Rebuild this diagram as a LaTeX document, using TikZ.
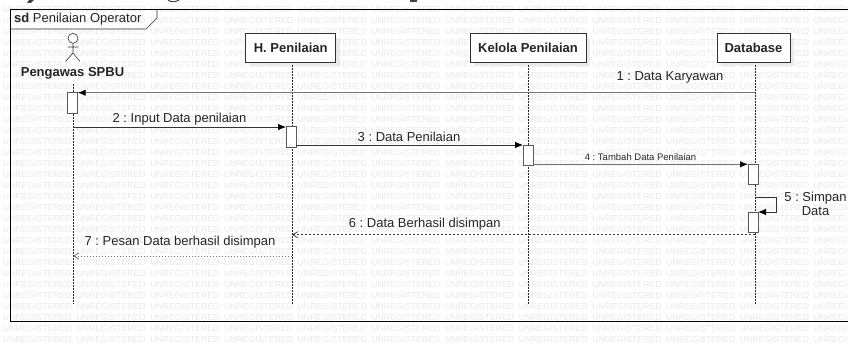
\documentclass[tikz,border=0pt]{standalone}
\usepackage{fontspec}
\setmainfont{Liberation Sans}
\usetikzlibrary{arrows.meta}
\definecolor{wm}{gray}{0.915}
\definecolor{ink}{gray}{0.15}
\definecolor{msg}{gray}{0.2}
\definecolor{msgsoft}{gray}{0.45}
\tikzset{
  x=1pt,y=-1pt,
  wmark/.style={text=wm,font=\fontsize{8.7}{9}\selectfont,anchor=west,inner sep=0pt},
  headbox/.style={draw=black!80,line width=0.7pt,fill=white,inner sep=0pt,font=\fontsize{13}{15}\bfseries\selectfont,text=ink},
  lifeline/.style={black!85,line width=0.7pt,dash pattern=on 1.5pt off 1.5pt},
  actbox/.style={draw=black!65,line width=0.8pt,fill=white,inner sep=0pt,minimum width=10pt},
  lbl/.style={font=\frenchspacing\fontsize{13}{13.5}\selectfont,text=ink,inner sep=0pt,align=center},
  synccall/.style={line width=0.8pt,draw=msg,-{Latex[length=8pt,width=6.5pt,black]}},
  softcall/.style={line width=1pt,draw=msgsoft,-{Latex[length=8pt,width=6.5pt,black]}},
  reply/.style={line width=0.7pt,draw=black!80,dash pattern=on 2pt off 2pt,-{Straight Barb[length=5pt,width=6pt]}},
  softreply/.style={line width=0.8pt,draw=black!55,dash pattern=on 1.5pt off 1.5pt,-{Straight Barb[length=5pt,width=6pt]}},
}
\begin{document}
\begin{tikzpicture}
\useasboundingbox (0,0) rectangle (848,345);
\fill[white] (0,0) rectangle (848,345);
% watermark
\begin{scope}
\clip (0,0) rectangle (848,345);
\foreach \r in {0,...,30}{
  \foreach \c in {0,...,11}{
    \node[wmark] at ({2.7+73.7*\c},{10+11*\r}) {UNREGISTERED};
  }
}
\end{scope}
% clipped heading remains
\fill[black!75] (29,0) -- (34,0) -- (31,3) -- (27,3) -- cycle;
\draw[black!75,line width=1pt] (168,0) .. controls (170,2.2) and (176,2.2) .. (179,0);
\fill[black!75] (410,0) rectangle (417,2);
% frame
\draw[black,line width=0.8pt] (848,9.5) -- (10,9.5) -- (10,321) -- (848,321);
\node[inner sep=0pt,anchor=west,font=\frenchspacing\fontsize{13}{15}\selectfont,text=ink] (frametitle) at (14,19) {\textbf{sd} Penilaian Operator};
\draw[black!80,line width=0.7pt] (157,9.5) -- (157,18) -- (146,29) -- (10,29);
% shadows
\fill[black!10,opacity=.7] (250,58) rectangle (340,66);
\fill[black!10,opacity=.7] (336,38) rectangle (340,58);
\fill[black!10,opacity=.7] (474,58) rectangle (590,66);
\fill[black!10,opacity=.7] (586,38) rectangle (590,58);
\fill[black!10,opacity=.7] (721,58) rectangle (794,66);
\fill[black!10,opacity=.7] (790,38) rectangle (794,58);
% heads
\node[headbox,minimum width=90pt,minimum height=29pt] (h) at (290.7,47.5) {H. Penilaian};
\node[headbox,minimum width=116pt,minimum height=29pt] (k) at (528,47.5) {Kelola Penilaian};
\node[headbox,minimum width=73pt,minimum height=29pt] (d) at (753.5,47.5) {Database};
% actor
\coordinate (actorhead) at (73,38.3);
\draw[black!80,line width=0.6pt] (actorhead) circle (5);
\coordinate (neck) at (73,43.3);
\coordinate (hip) at (73,53);
\draw[black!80,line width=0.6pt] (neck) -- (hip) (67.5,47) -- (78.5,47) (65.5,61.5) -- (hip) -- (80,61.5);
\node[font=\fontsize{13}{15}\bfseries\selectfont,text=ink,inner sep=0pt] (actor) at (72.5,73.5) {Pengawas SPBU};
% lifelines
\coordinate (actorend) at (73,303.5);
\coordinate (actorstart) at (73,84);
\coordinate (hend) at (292,303.5);
\coordinate (hstart) at (292,62);
\coordinate (kend) at (528,303.5);
\coordinate (kstart) at (528,62);
\coordinate (dend) at (755,303.5);
\coordinate (dstart) at (755,62);
\draw[lifeline] (actorstart) -- (actorend);
\draw[lifeline] (hstart) -- (hend);
\draw[lifeline] (kstart) -- (kend);
\draw[lifeline] (dstart) -- (dend);
% activations
\node[actbox,minimum height=20.5pt] (a1) at (72.7,103) {};
\node[actbox,minimum height=20.5pt] (a2) at (291,137) {};
\node[actbox,minimum height=20.5pt] (a3) at (528,155.5) {};
\node[actbox,minimum height=20.5pt] (a4) at (753,174.5) {};
\node[actbox,minimum height=20.5pt] (a5) at (753,222.5) {};
% message points
\coordinate (m1s) at (755,92.7);
\coordinate (m1e) at (77.7,92.7);
\coordinate (m2s) at (73,127);
\coordinate (m2e) at (286,127);
\coordinate (m3s) at (296,145);
\coordinate (m3e) at (523,145);
\coordinate (m4s) at (533,164.3);
\coordinate (m4e) at (748,164.3);
\coordinate (m5s) at (755,197.7);
\coordinate (m5a) at (776,197.7);
\coordinate (m5b) at (776,212);
\coordinate (m5e) at (758,212);
\coordinate (m6s) at (755,234.7);
\coordinate (m6e) at (292,234.7);
\coordinate (m7s) at (292,256);
\coordinate (m7e) at (73,256);
\draw[softcall] (m1s) -- (m1e);
\draw[synccall] (m2s) -- (m2e);
\draw[synccall] (m3s) -- (m3e);
\draw[softcall] (m4s) -- (m4e);
\draw[synccall] (m5s) -- (m5a) -- (m5b) -- (m5e);
\draw[reply] (m6s) -- (m6e);
\draw[softreply] (m7s) -- (m7e);
% labels
\node[lbl] (l1) at (670,77.7) {1 : Data Karyawan};
\node[lbl] (l2) at (179.5,119) {2 : Input Data penilaian};
\node[lbl] (l3) at (409,137) {3 : Data Penilaian};
\node[lbl,font=\frenchspacing\fontsize{9.5}{11}\selectfont] (l4) at (640.5,156.7) {4 : Tambah Data Penilaian};
\node[lbl] (l5) at (815.5,204) {5 : Simpan\\Data};
\node[lbl] (l6) at (424.7,223.7) {6 : Data Berhasil disimpan};
\node[lbl] (l7) at (180,242) {7 : Pesan Data berhasil disimpan};
\end{tikzpicture}
\end{document}
